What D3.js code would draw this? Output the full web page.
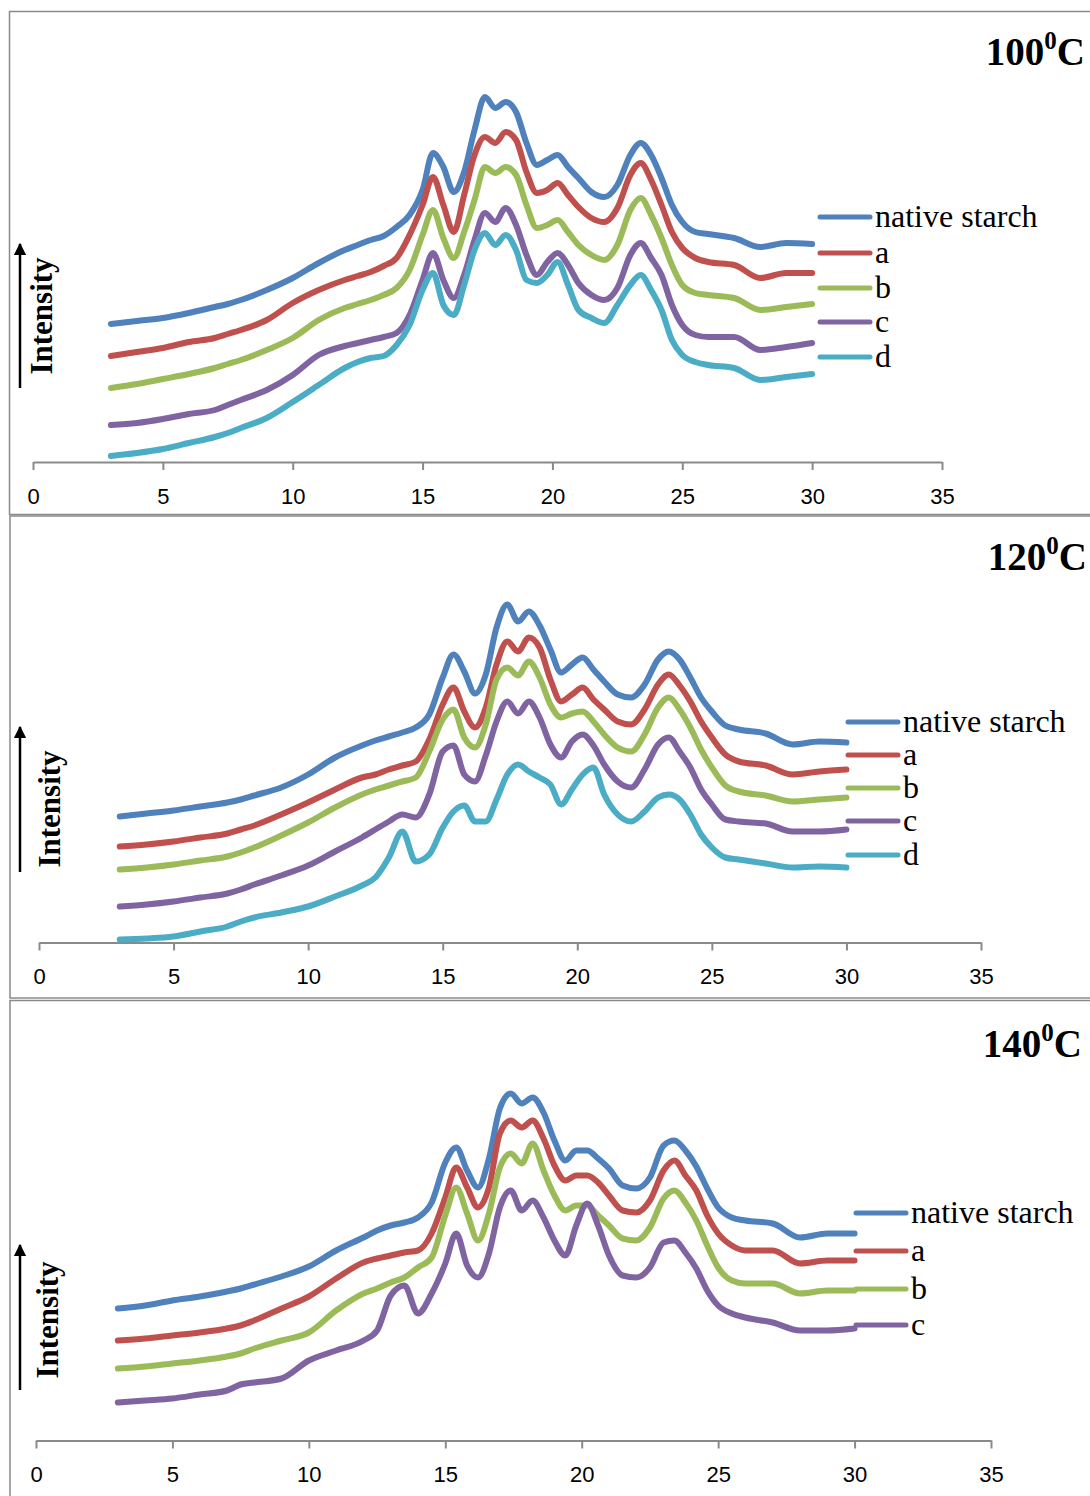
<!DOCTYPE html>
<html>
<head>
<meta charset="utf-8">
<script src="https://cdn.jsdelivr.net/npm/d3@7"></script>
<style>
  body { margin: 0; background: #fff; }
  svg { display: block; }
</style>
</head>
<body>
<script>
'use strict';

// 2-theta (degrees) sample points
var twoTheta = [3,4,5,6,7,7.5,8,9,10,11,12,12.5,13,13.5,14,14.5,15,15.4,15.8,16.2,16.6,17,17.4,17.8,18.2,18.6,19,19.4,19.8,20.2,20.6,21,21.5,22,22.5,23,23.4,23.8,24.2,24.6,25,25.5,26,27,28,29,30];

// intensities (arbitrary units, curves offset as in the figure)
var nat100 = [138,141,144,149,155,158,162,172,184,199,212,217,222,226,235,247,272,309,295,270,290,332,365,354,360,350,319,297,302,307,295,284,270,265,277,307,319,307,284,257,240,230,228,224,215,219,218];
var a100   = [106,110,114,120,124,128,132,142,159,172,182,186,190,196,204,227,257,285,257,230,267,307,325,319,330,322,290,269,272,279,267,255,244,240,254,287,299,282,257,230,214,204,200,197,184,189,189];
var b100   = [74,78,83,88,94,98,102,112,124,142,154,158,162,167,174,192,227,252,224,204,230,262,295,289,295,287,257,234,237,242,230,217,207,202,217,252,264,247,224,197,177,169,167,164,152,155,158];
var c100   = [37,39,43,48,52,57,62,72,87,107,116,119,122,125,129,147,182,209,182,164,187,222,249,240,254,237,207,187,200,209,197,179,167,162,174,207,219,204,187,157,137,127,125,125,112,115,119];
var d100   = [6,9,13,19,25,29,34,44,60,77,94,100,104,106,117,137,172,189,157,147,177,212,229,217,227,212,182,179,187,200,177,152,144,139,157,177,187,172,152,122,107,100,97,94,82,85,88];

var nat120 = [126,129,132,136,140,143,147,155,168,185,197,202,206,210,215,228,265,288,271,249,268,315,338,321,331,317,293,270,278,285,273,261,248,245,258,283,291,283,265,245,231,217,213,209,198,201,200];
var a120   = [96,98,101,105,109,113,117,128,140,153,165,168,173,177,181,203,238,255,231,215,235,278,301,291,305,295,263,241,248,255,243,233,221,218,233,258,268,257,241,221,205,188,181,177,168,171,173];
var b120   = [73,75,78,82,86,90,95,107,120,135,148,153,157,161,165,191,223,233,205,195,218,263,275,267,281,265,238,225,229,231,221,208,195,191,208,235,245,233,215,193,175,157,151,147,141,143,145];
var c120   = [36,38,41,45,49,53,58,67,77,91,105,113,121,128,125,148,191,197,168,161,187,221,241,229,241,225,198,185,201,208,197,178,161,155,173,198,205,191,175,153,138,123,121,119,111,111,113];
var d120   = [3,4,6,11,16,21,25,30,36,46,57,65,85,111,81,88,115,131,137,121,121,143,168,178,171,165,158,138,153,168,175,148,128,121,131,145,148,143,128,108,95,85,83,79,75,76,75];

var nat140 = [132,135,140,144,149,152,156,164,174,190,203,210,215,218,223,238,278,293,270,253,282,332,347,337,343,328,300,280,290,290,282,272,255,252,263,295,300,290,274,252,233,223,220,217,203,207,207];
var a140   = [100,102,105,108,112,115,120,132,144,162,178,182,185,188,190,207,243,273,253,233,253,307,320,313,320,302,275,260,265,265,258,245,230,228,240,270,280,265,250,225,207,195,190,190,177,180,180];
var b140   = [72,74,77,80,84,87,92,100,108,130,147,152,158,163,173,183,225,253,227,200,227,273,287,277,297,270,245,230,235,235,225,215,202,200,213,242,250,238,220,195,173,160,157,157,147,150,150];
var c140   = [38,40,42,46,50,56,58,62,80,90,100,110,145,155,127,147,177,207,175,163,187,233,250,230,240,223,200,185,215,237,215,185,165,163,173,198,200,188,172,150,135,127,123,118,110,110,112];

var seriesNames = ['native starch', 'a', 'b', 'c', 'd'];
var xTicks = [0, 5, 10, 15, 20, 25, 30, 35];
var temps = ['100', '120', '140'];

var colors = ['#4F81BD', '#C0504D', '#9BBB59', '#8064A2', '#4BACC6'];
var serif = '"Liberation Serif", "Times New Roman", serif';

var panels = [
  { temp: temps[0], series: [nat100, a100, b100, c100, d100],
    frame: [9.5, 11.5, 1100, 503], axisY: 462, x0: 33, x35: 942,
    titleX: 1085, titleY: 65,
    legX: 818, legY: [217, 253, 288, 322, 357],
    arrowX: 20, arrowY: [388, 242], labelX: 52, labelY: 316 },
  { temp: temps[1], series: [nat120, a120, b120, c120, d120],
    frame: [10, 516, 1100, 482], axisY: 942.5, x0: 39, x35: 981,
    titleX: 1087, titleY: 570,
    legX: 846, legY: [722, 755, 788, 821, 855],
    arrowX: 20, arrowY: [872, 725], labelX: 60, labelY: 809 },
  { temp: temps[2], series: [nat140, a140, b140, c140],
    frame: [10, 1000.5, 1100, 600], axisY: 1440.5, x0: 36, x35: 991,
    titleX: 1082, titleY: 1057,
    legX: 854, legY: [1213, 1251, 1289, 1325],
    arrowX: 20, arrowY: [1390, 1243], labelX: 58, labelY: 1320 }
];

var svg = d3.select('body').append('svg')
  .attr('width', 1090)
  .attr('height', 1496);

svg.append('defs').append('marker')
  .attr('id', 'arrow')
  .attr('viewBox', '0 0 10 10')
  .attr('refX', 9).attr('refY', 5)
  .attr('markerWidth', 5).attr('markerHeight', 5)
  .attr('markerUnits', 'strokeWidth')
  .attr('orient', 'auto')
  .append('path')
    .attr('d', 'M0,0 L10,5 L0,10 z')
    .attr('fill', '#000');

panels.forEach(function(p) {
  var g = svg.append('g');

  g.append('rect')
    .attr('x', p.frame[0]).attr('y', p.frame[1])
    .attr('width', p.frame[2]).attr('height', p.frame[3])
    .attr('fill', 'none')
    .attr('stroke', '#8a8a8a')
    .attr('stroke-width', 1.5);

  var x = d3.scaleLinear().domain([0, 35]).range([p.x0, p.x35]);
  var y = d3.scaleLinear().domain([0, 450]).range([p.axisY, p.axisY - 450]);

  // x axis
  var axis = g.append('g')
    .attr('transform', 'translate(0,' + p.axisY + ')')
    .call(d3.axisBottom(x).tickValues(xTicks).tickSize(8).tickSizeOuter(0).tickPadding(18));
  axis.select('.domain').attr('stroke', '#8a8a8a').attr('stroke-width', 2);
  axis.selectAll('.tick line').attr('stroke', '#8a8a8a').attr('stroke-width', 2);
  axis.selectAll('.tick text')
    .attr('fill', '#000')
    .style('font-family', '"Liberation Sans", Arial, sans-serif')
    .style('font-size', '22px');

  // curves
  var line = d3.line()
    .x(function(d, i) { return x(twoTheta[i]); })
    .y(function(d) { return y(d); })
    .curve(d3.curveMonotoneX);

  g.selectAll('path.trace')
    .data(p.series)
    .enter()
    .append('path')
      .attr('class', 'trace')
      .attr('d', line)
      .attr('fill', 'none')
      .attr('stroke', function(d, i) { return colors[i]; })
      .attr('stroke-width', 6)
      .attr('stroke-linejoin', 'round')
      .attr('stroke-linecap', 'round');

  // legend
  var leg = g.selectAll('g.leg')
    .data(p.series)
    .enter()
    .append('g')
      .attr('class', 'leg')
      .attr('transform', function(d, i) { return 'translate(' + p.legX + ',' + p.legY[i] + ')'; });
  leg.append('line')
    .attr('x1', 2).attr('x2', 52)
    .attr('stroke', function(d, i) { return colors[i]; })
    .attr('stroke-width', 5)
    .attr('stroke-linecap', 'round');
  leg.append('text')
    .attr('x', 57).attr('y', 10)
    .style('font-family', serif)
    .style('font-size', '32px')
    .text(function(d, i) { return seriesNames[i]; });

  // temperature label
  var t = g.append('text')
    .attr('x', p.titleX).attr('y', p.titleY)
    .attr('text-anchor', 'end')
    .style('font-family', serif)
    .style('font-weight', 'bold')
    .style('font-size', '39px');
  t.append('tspan').text(p.temp);
  t.append('tspan').attr('dy', -16).style('font-size', '25px').text('0');
  t.append('tspan').attr('dy', 16).text('C');

  // intensity arrow and label
  g.append('line')
    .attr('x1', p.arrowX).attr('x2', p.arrowX)
    .attr('y1', p.arrowY[0]).attr('y2', p.arrowY[1] + 2)
    .attr('stroke', '#000')
    .attr('stroke-width', 2.5)
    .attr('marker-end', 'url(#arrow)');
  g.append('text')
    .attr('transform', 'translate(' + p.labelX + ',' + p.labelY + ') rotate(-90)')
    .attr('text-anchor', 'middle')
    .style('font-family', serif)
    .style('font-weight', 'bold')
    .style('font-size', '31px')
    .text('Intensity');
});
</script>
</body>
</html>
